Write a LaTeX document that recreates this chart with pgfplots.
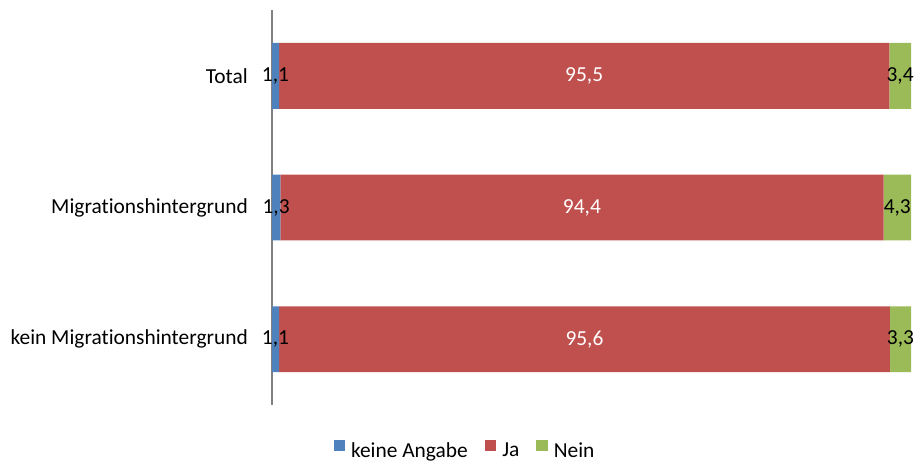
\documentclass[border=0pt]{standalone}
\usepackage{pgfplots}
\pgfplotsset{compat=1.18}
\usepackage{fontspec}
\setmainfont{Carlito}[Ligatures=NoCommon]
\definecolor{cblue}{HTML}{4F81BD}
\definecolor{cred}{HTML}{C0504D}
\definecolor{cgreen}{HTML}{9BBB59}
\newcommand\lf{\fontsize{21.4bp}{25bp}\selectfont}
\begin{document}
\begin{tikzpicture}
\useasboundingbox (0,0) rectangle (916bp,462bp);
\begin{axis}[
 at={(272bp,57bp)}, anchor=south west,
 scale only axis, width=639bp, height=395bp,
 xbar stacked, bar width=0.5,
 xmin=0, xmax=100, ymin=-0.5, ymax=2.5, y dir=reverse,
 axis x line=none,
 axis y line*=left,
 y axis line style={draw=gray, line width=1.6bp, -},
 ytick={0,1,2},
 yticklabels={Total, Migrationshintergrund, kein Migrationshintergrund},
 ytick style={draw=none},
 yticklabel style={font=\lf, anchor=east, inner sep=0pt, xshift=-24bp},
 legend style={draw=none, at={(0.302,-0.115)}, anchor=center, legend columns=-1, font=\lf,
   /tikz/every odd column/.append style={column sep=4bp},
   /tikz/every even column/.append style={column sep=15bp}},
 legend image code/.code={\fill[#1] (0bp,0bp) rectangle (11.5bp,11bp);},
 /pgf/number format/.cd, use comma, fixed, fixed zerofill, precision=1, assume math mode=true, /pgfplots/.cd,
 nodes near coords, point meta=rawx,
 every node near coord/.append style={font=\lf, anchor=center, text=black},
]
\addplot[fill=cblue, draw=none] coordinates {(1.1,0) (1.3,1) (1.1,2)};
\addplot[fill=cred, draw=none, every node near coord/.append style={text=white}] coordinates {(95.5,0) (94.4,1) (95.6,2)};
\addplot[fill=cgreen, draw=none] coordinates {(3.4,0) (4.3,1) (3.3,2)};
\legend{keine Angabe, Ja, Nein}
\end{axis}
\end{tikzpicture}
\end{document}
